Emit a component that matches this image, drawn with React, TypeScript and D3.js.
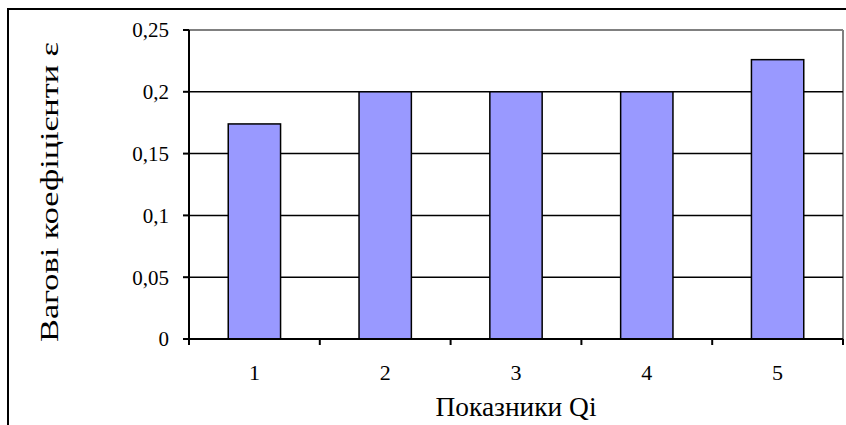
import React from "react";
import * as d3 from "d3";

const categories = ["1", "2", "3", "4", "5"];
const values = [0.174, 0.2, 0.2, 0.2, 0.226];
const yTicks = [0, 0.05, 0.1, 0.15, 0.2, 0.25];
const yTickLabels = ["0", "0,05", "0,1", "0,15", "0,2", "0,25"];
const xTitle = "Показники Qi";
const yTitle = "Вагові коефіцієнти ε";

const W = 846;
const H = 425;
const left = 189;
const right = 843;
const top = 30;
const bottom = 339;
const font = "'Liberation Serif', 'Times New Roman', serif";

export default function App() {
  const x = d3.scaleBand<string>().domain(categories).range([left, right]).paddingInner(0.6).paddingOuter(0.3);
  const xc = d3.scaleBand<string>().domain(categories).range([left, right]);
  const y = d3.scaleLinear().domain([0, 0.25]).range([bottom, top]);
  const catEdges = [...categories.map((c) => xc(c) as number), right];

  return (
    <svg width={W} height={H} style={{ position: "absolute", left: 0, top: 0, display: "block", background: "#fff" }}>
      <rect x={8} y={9} width={W + 20} height={H + 20} fill="#fff" stroke="#000" strokeWidth={2} />
      {/* plot border (gray) */}
      <line x1={left} x2={right} y1={y(0.25)} y2={y(0.25)} stroke="#808080" strokeWidth={2} />
      <line x1={right} x2={right} y1={top} y2={bottom} stroke="#808080" strokeWidth={2} />
      {/* gridlines */}
      {yTicks.slice(1, -1).map((t) => (
        <line key={t} x1={left} x2={right} y1={y(t)} y2={y(t)} stroke="#000" strokeWidth={1.5} />
      ))}
      {/* bars */}
      {categories.map((c, i) => (
        <rect
          key={c}
          x={x(c)}
          y={y(values[i])}
          width={x.bandwidth()}
          height={y(0) - y(values[i])}
          fill="#9999FF"
          stroke="#000"
          strokeWidth={1.5}
        />
      ))}
      {/* axes */}
      <line x1={left} x2={left} y1={top} y2={bottom + 6} stroke="#000" strokeWidth={2} />
      <line x1={left} x2={right} y1={bottom} y2={bottom} stroke="#000" strokeWidth={2} />
      {yTicks.map((t, i) => (
        <g key={t}>
          <line x1={left - 6} x2={left} y1={y(t)} y2={y(t)} stroke="#000" strokeWidth={2} />
          <text x={169} y={y(t)} dy="0.35em" textAnchor="end" fontFamily={font} fontSize={21} fill="#000">
            {yTickLabels[i]}
          </text>
        </g>
      ))}
      {catEdges.map((e, i) => (
        <line key={i} x1={e} x2={e} y1={bottom} y2={bottom + 6} stroke="#000" strokeWidth={2} />
      ))}
      {categories.map((c) => (
        <text key={c} x={(xc(c) as number) + xc.bandwidth() / 2} y={380} textAnchor="middle" fontFamily={font} fontSize={22} fill="#000">
          {c}
        </text>
      ))}
      <text
        x={(left + right) / 2}
        y={416}
        textAnchor="middle"
        fontFamily={font}
        fontSize={27}
        textLength={161}
        lengthAdjust="spacingAndGlyphs"
        fill="#000"
      >
        {xTitle}
      </text>
      <text
        transform={`translate(58, 192) rotate(-90)`}
        textAnchor="middle"
        fontFamily={font}
        fontSize={26}
        textLength={300}
        lengthAdjust="spacingAndGlyphs"
        fill="#000"
      >
        {yTitle}
      </text>
    </svg>
  );
}
